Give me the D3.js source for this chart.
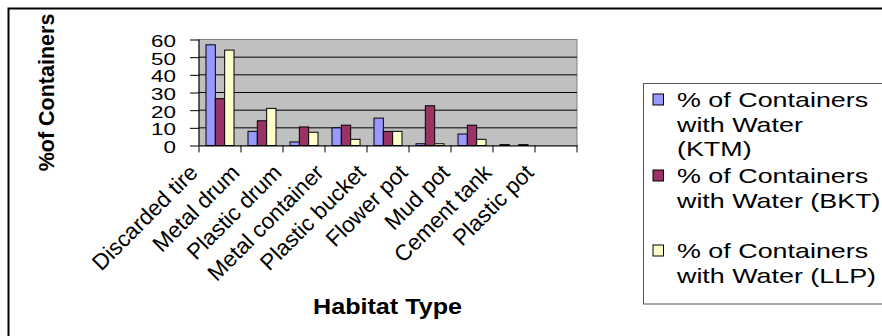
<!DOCTYPE html>
<html>
<head>
<meta charset="utf-8">
<script src="https://cdn.jsdelivr.net/npm/d3@7"></script>
<style>
  html, body { margin: 0; padding: 0; background: #ffffff; }
  svg { display: block; font-family: Arial, "Liberation Sans", sans-serif; }
</style>
</head>
<body>
<svg id="chart" width="882" height="336"></svg>
<script>
// Habitat types along the x axis
const categories = ["Discarded tire", "Metal drum", "Plastic drum", "Metal container",
  "Plastic bucket", "Flower pot", "Mud pot", "Cement tank", "Plastic pot"];

// Percent of containers holding water, per study site
const ktmValues = [57, 8, 2, 10, 15.5, 1, 6.5, 0.5, 0];
const bktValues = [26.5, 14, 10.5, 11.5, 8, 22.5, 11.5, 0, 0];
const llpValues = [54, 21, 7.5, 3.5, 8, 1, 3.5, 0.5, 0];

const seriesKeys = ["KTM", "BKT", "LLP"];
const seriesColors = ["#9999FF", "#993366", "#FFFFCC"];
const legendLines = [
  ["% of Containers", "with Water", "(KTM)"],
  ["% of Containers", "with Water (BKT)"],
  ["% of Containers", "with Water (LLP)"]
];

const yTicks = [0, 10, 20, 30, 40, 50, 60];
const yTitle = "%of Containers";
const xTitle = "Habitat Type";

const svg = d3.select("#chart");

// Chart area frame
svg.append("path")
  .attr("d", "M8.5,340 L8.5,8.5 L890,8.5")
  .attr("fill", "none").attr("stroke", "#000").attr("stroke-width", 2);

const plot = { left: 199, right: 577, top: 39.5, bottom: 145.5 };

const x0 = d3.scaleBand().domain(categories).range([plot.left, plot.right]).padding(0);
const bw = x0.bandwidth();
const x1 = d3.scaleBand().domain(seriesKeys).range([bw / 6, bw * 5 / 6]).padding(0);
const y = d3.scaleLinear().domain([0, 60]).range([plot.bottom, plot.top]);
const color = d3.scaleOrdinal().domain(seriesKeys).range(seriesColors);

// Plot background
svg.append("rect")
  .attr("x", plot.left).attr("y", plot.top)
  .attr("width", plot.right - plot.left).attr("height", plot.bottom - plot.top)
  .attr("fill", "#C0C0C0").attr("stroke", "#808080").attr("stroke-width", 1);

// Horizontal gridlines
svg.append("g").selectAll("line")
  .data(yTicks.filter(t => t > 0 && t < 60))
  .join("line")
  .attr("x1", plot.left).attr("x2", plot.right)
  .attr("y1", d => y(d)).attr("y2", d => y(d))
  .attr("stroke", "#000").attr("stroke-width", 1);

// Bars
const rows = categories.map((c, i) => ({
  category: c,
  values: [
    { key: "KTM", value: ktmValues[i] },
    { key: "BKT", value: bktValues[i] },
    { key: "LLP", value: llpValues[i] }
  ]
}));

svg.append("g").selectAll("g")
  .data(rows)
  .join("g")
  .attr("transform", d => `translate(${x0(d.category)},0)`)
  .selectAll("rect")
  .data(d => d.values)
  .join("rect")
  .attr("x", d => x1(d.key))
  .attr("width", x1.bandwidth())
  .attr("y", d => y(d.value))
  .attr("height", d => y(0) - y(d.value))
  .attr("fill", d => color(d.key))
  .attr("stroke", "#000").attr("stroke-width", 1);

// Y axis
const yAxis = svg.append("g")
  .attr("transform", `translate(${plot.left},0)`)
  .call(d3.axisLeft(y).tickValues(yTicks).tickSize(9).tickSizeOuter(0));
yAxis.select(".domain").remove();
yAxis.selectAll(".tick line").attr("stroke", "#000");
yAxis.selectAll(".tick text")
  .attr("x", 0).attr("dy", null)
  .attr("transform", "translate(-23,7) scale(1.32,0.92)")
  .attr("text-anchor", "end")
  .attr("font-family", "Arial, 'Liberation Sans', sans-serif")
  .attr("font-size", 17).attr("fill", "#000");
svg.append("line")
  .attr("x1", plot.left).attr("x2", plot.left)
  .attr("y1", plot.top).attr("y2", plot.bottom + 7)
  .attr("stroke", "#000").attr("stroke-width", 1);

// X axis
const xAxis = svg.append("g")
  .attr("transform", `translate(0,${plot.bottom})`)
  .call(d3.axisBottom(x0).tickSize(0).tickSizeOuter(0));
xAxis.select(".domain").attr("stroke", "#000");
xAxis.selectAll(".tick text")
  .attr("y", null).attr("dy", null)
  .attr("transform", `translate(${-bw / 2},28.5) rotate(-45)`)
  .attr("text-anchor", "end")
  .attr("font-family", "Arial, 'Liberation Sans', sans-serif")
  .attr("font-size", 22.4).attr("fill", "#000");

// Category boundary ticks
svg.append("g").selectAll("line")
  .data(categories.map(c => x0(c) + bw))
  .join("line")
  .attr("x1", d => d).attr("x2", d => d)
  .attr("y1", plot.bottom).attr("y2", plot.bottom + 7)
  .attr("stroke", "#000").attr("stroke-width", 1);

// Axis titles
svg.append("text")
  .attr("transform", "translate(53.5,92.5) rotate(-90)")
  .attr("text-anchor", "middle")
  .attr("font-weight", "bold").attr("font-size", 21.5)
  .text(yTitle);

svg.append("text")
  .attr("transform", `translate(${(plot.left + plot.right) / 2 - 0.5},313.5) scale(1.17,1)`)
  .attr("text-anchor", "middle")
  .attr("font-weight", "bold").attr("font-size", 21.5)
  .text(xTitle);

// Legend
const legend = svg.append("g");
legend.append("rect")
  .attr("x", 643.5).attr("y", 83.5).attr("width", 300).attr("height", 220.5)
  .attr("fill", "#fff").attr("stroke", "#555").attr("stroke-width", 1);

const entryBaselines = [107, 183, 258];
const lineStep = 24.5;
seriesKeys.forEach((k, i) => {
  const b = entryBaselines[i];
  legend.append("rect")
    .attr("x", 653).attr("y", b - 13)
    .attr("width", 10.5).attr("height", 11)
    .attr("fill", color(k)).attr("stroke", "#000").attr("stroke-width", 1);
  legendLines[i].forEach((line, j) => {
    legend.append("text")
      .attr("transform", `translate(677,${b + j * lineStep}) scale(1.28,1)`)
      .attr("font-size", 21).attr("fill", "#000")
      .text(line);
  });
});
</script>
</body>
</html>
